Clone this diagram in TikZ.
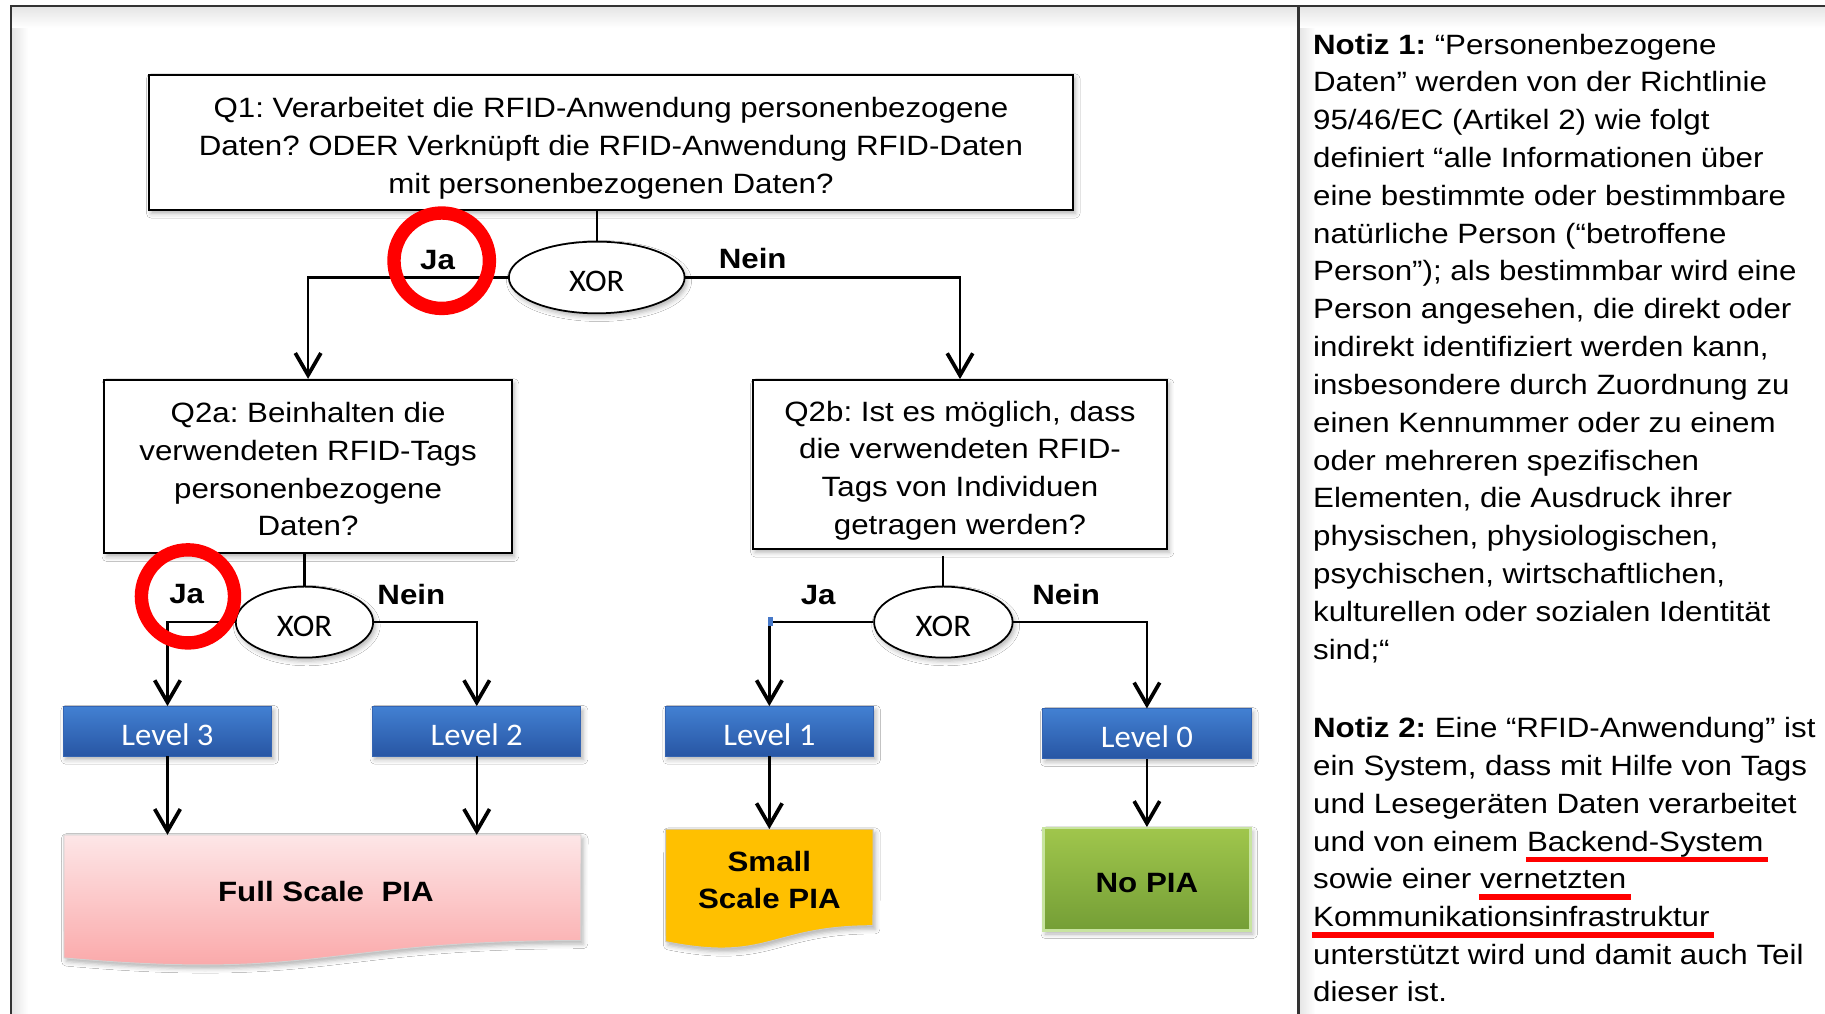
\documentclass[tikz,border=0pt]{standalone}
\usepackage{fontspec}
\setmainfont{Liberation Sans}[FakeStretch=1.12]
\newfontfamily\calib{Carlito}[FakeStretch=1.04]
\usetikzlibrary{arrows.meta,shapes.geometric,shadows.blur}
\frenchspacing

\definecolor{lvltop}{RGB}{66,128,210}
\definecolor{lvlbot}{RGB}{40,86,164}
\definecolor{lvledge}{RGB}{52,100,178}
\definecolor{piatop}{RGB}{253,230,231}
\definecolor{piabot}{RGB}{250,162,163}
\definecolor{smallpia}{RGB}{255,192,0}
\definecolor{greentop}{RGB}{160,198,76}
\definecolor{greenbot}{RGB}{116,158,54}
\definecolor{greenedge}{RGB}{200,228,160}
\definecolor{markred}{RGB}{255,0,0}
\definecolor{bluedot}{RGB}{70,120,200}

% red underline below a word
\newsavebox\ulbox
\newcommand\redunder[1]{\sbox\ulbox{#1}\rlap{\kern-1pt\textcolor{markred}{\rule[-9.8pt]{\dimexpr\wd\ulbox+5pt\relax}{5pt}}}\usebox\ulbox}
% lower a label inside its node without changing the node's box
\newcommand\lowered[2]{\raisebox{-#1}[\height][\depth]{#2}}

\begin{document}
\begin{tikzpicture}[x=1pt,y=-1pt,
  softshadow/.style={blur shadow={shadow xshift=2pt,shadow yshift=-3pt,shadow blur radius=4pt,shadow opacity=30}},
  question/.style={draw,line width=1.8pt,fill=white,inner sep=0pt,softshadow},
  qtext/.style={align=center,inner sep=0pt,font=\fontsize{24}{32.4}\selectfont},
  xorgate/.style={ellipse,draw,line width=1.5pt,fill=white,inner sep=0pt,
    font=\calib\fontsize{27}{30}\selectfont,softshadow},
  level/.style={rectangle,draw=lvledge,line width=0.8pt,top color=lvltop,bottom color=lvlbot,
    minimum width=179pt,minimum height=42.5pt,inner sep=0pt,text=white,
    font=\calib\fontsize{27}{30}\selectfont,softshadow},
  branch/.style={font=\bfseries\fontsize{24}{28}\selectfont,anchor=base},
  outtext/.style={font=\bfseries\fontsize{24}{32}\selectfont,align=center,inner sep=0pt},
  conn/.style={line width=1.9pt},
  arr/.style={line width=2pt,-{Straight Barb[length=19pt,width=22pt,line width=3.2pt]}},
  ring/.style={draw=markred,line width=11.5pt},
  note/.style={anchor=base west,inner sep=0pt,font=\fontsize{24}{32.5}\selectfont},
  frameline/.style={draw=black!80,line width=2pt}
]
\useasboundingbox (0,0) rectangle (1568,871);
\fill[white] (0,0) rectangle (1568,871);

% soft shading along the page frame
\shade[left color=black!10,right color=white] (10.5,6) rectangle (24,871);
\shade[top color=black!10,bottom color=white] (10.5,6.2) rectangle (1115,24);
\shade[left color=black!10,right color=white] (1116.5,6) rectangle (1130,871);
\shade[top color=black!10,bottom color=white] (1116.5,6.2) rectangle (1568,24);

% page frame and separator
\draw[frameline] (9.5,871) -- (9.5,5.2) -- (1568,5.2);
\draw[frameline] (1115.6,5.2) -- (1115.6,871);

% questions
\node[question,minimum width=794pt,minimum height=116pt] (q1) at (524.9,122.4) {};
\node[qtext] (q1t) at (524.9,127.4)
  {Q1: Verarbeitet die RFID-Anwendung personenbezogene\\Daten? ODER Verknüpft die RFID-Anwendung RFID-Daten\\mit personenbezogenen Daten?};
\node[question,minimum width=350pt,minimum height=149pt] (q2a) at (264.7,400.9) {};
\node[qtext] (q2at) at (264.7,403.2)
  {Q2a: Beinhalten die\\verwendeten RFID-Tags\\personenbezogene\\Daten?};
\node[question,minimum width=355.6pt,minimum height=145pt] (q2b) at (824.8,399.1) {};
\node[qtext] (q2bt) at (824.8,404.3)
  {Q2b: Ist es möglich, dass\\die verwendeten RFID-\\Tags von Individuen\\getragen werden?};

% XOR gates
\node[xorgate,minimum width=151pt,minimum height=61.6pt] (xor1) at (512.7,238.4) {\lowered{3pt}{XOR}};
\node[xorgate,minimum width=118pt,minimum height=61pt] (xor2) at (261.6,534.5) {\lowered{3.5pt}{XOR}};
\node[xorgate,minimum width=119pt,minimum height=61pt] (xor3) at (810.5,534.5) {\lowered{3.5pt}{XOR}};

% levels
\node[level] (lv3) at (143.9,628.3) {\lowered{3pt}{Level 3}};
\node[level] (lv2) at (409.6,628.3) {\lowered{3pt}{Level 2}};
\node[level] (lv1) at (661,628.3) {\lowered{3pt}{Level 1}};
\node[level] (lv0) at (985.4,630.3) {\lowered{3pt}{Level 0}};

% outcomes: document shapes
\node[inner sep=0pt,minimum width=444pt,minimum height=113pt] (full) at (277,774) {};
\path[draw=black!18,line width=0.8pt,top color=piatop,bottom color=piabot,softshadow]
  (full.north west) -- (full.north east) -- (499,808.1)
  .. controls (277,808.1) and (277,842.6) .. (55,823) -- cycle;
\node[outtext] (fulltext) at (280,765.8) {Full Scale\ \ PIA};

\node[inner sep=0pt,minimum width=178pt,minimum height=103.3pt] (small) at (661,764.2) {};
\path[draw=black!22,line width=0.8pt,fill=smallpia,softshadow]
  (small.north west) -- (small.north east) -- (750,795.3)
  .. controls (661,795.3) and (661,826.9) .. (572,809) -- cycle;
\node[outtext] (smalltext) at (661,756) {Small\\Scale PIA};

\node[rectangle,draw=greenedge,line width=2pt,top color=greentop,bottom color=greenbot,
  minimum width=178pt,minimum height=88pt,inner sep=0pt,softshadow,
  font=\bfseries\fontsize{24}{28}\selectfont] (nopia) at (985.4,755.5) {\lowered{3pt}{No PIA}};

% connectors
\draw[conn] (q1.south -| xor1) -- (xor1.north);
\draw[arr] (xor1.west) -| (q2a.north);
\draw[arr] (xor1.east) -| (q2b.north);
\draw[conn] (q2a.south -| xor2) -- (xor2.north);
\draw[arr] (xor2.west) -| (lv3.north);
\draw[arr] (xor2.east) -| (lv2.north);
\draw[conn] ([yshift=-5pt]q2b.south -| xor3) -- (xor3.north);
\draw[arr] (xor3.west) -| (lv1.north);
\draw[arr] (xor3.east) -| (lv0.north);
\draw[arr] (lv3.south) -- (lv3.south |- full.north);
\draw[arr] (lv2.south) -- (lv2.south |- full.north);
\draw[arr] (lv1.south) -- (small.north);
\draw[arr] (lv0.south) -- (nopia.north);
\fill[bluedot] (660,530.5) rectangle (664.5,538);

% branch labels
\node[branch] (ja1) at (376,231.4) {Ja};
\node[branch] (nein1) at (646.7,230.4) {Nein};
\node[branch] (ja2) at (160.4,518.4) {Ja};
\node[branch] (nein2) at (353.4,519) {Nein};
\node[branch] (ja3) at (703,519) {Ja};
\node[branch] (nein3) at (916,519) {Nein};

% red highlight rings
\draw[ring] (379.5,224) circle[radius=41pt];
\draw[ring] (161.5,512.4) circle[radius=40pt];

% notes
\foreach \t [count=\i from 0] in {
  {\textbf{Notiz 1:} “Personenbezogene},
  {Daten” werden von der Richtlinie},
  {95/46/EC (Artikel 2) wie folgt},
  {definiert “alle Informationen über},
  {eine bestimmte oder bestimmbare},
  {natürliche Person (“betroffene},
  {Person”); als bestimmbar wird eine},
  {Person angesehen, die direkt oder},
  {indirekt identifiziert werden kann,},
  {insbesondere durch Zuordnung zu},
  {einen Kennummer oder zu einem},
  {oder mehreren spezifischen},
  {Elementen, die Ausdruck ihrer},
  {physischen, physiologischen,},
  {psychischen, wirtschaftlichen,},
  {kulturellen oder sozialen Identität},
  {sind;“}}
  \node[note] (na\i) at (1128,46.4+32.5*\i) {\t};

\foreach \t [count=\i from 0] in {
  {\textbf{Notiz 2:} Eine “RFID-Anwendung” ist},
  {ein System, dass mit Hilfe von Tags},
  {und Lesegeräten Daten verarbeitet},
  {und von einem \redunder{Backend-System}},
  {sowie einer \redunder{vernetzten}},
  {\redunder{Kommunikationsinfrastruktur}},
  {unterstützt wird und damit auch Teil},
  {dieser ist.}}
  \node[note] (nb\i) at (1128,634+32.4*\i) {\t};
\end{tikzpicture}
\end{document}
